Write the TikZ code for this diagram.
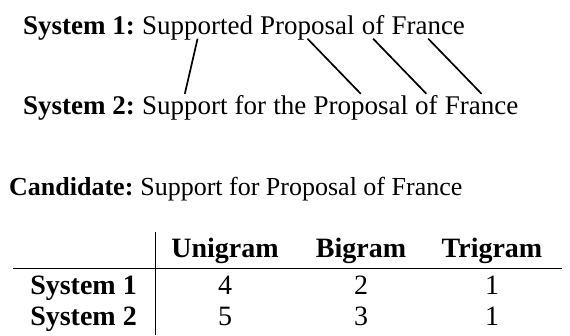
\documentclass[tikz,border=0pt]{standalone}
\usepackage{fontspec}
\setmainfont{Liberation Serif}
\usepackage{tikz}
\usetikzlibrary{positioning}

\begin{document}
\begin{tikzpicture}[x=1pt,y=-1pt,node distance=6.75pt]
            \tikzstyle{lbl}=[anchor=base west,inner sep=0pt,font=\fontsize{27}{32}\selectfont\bfseries]
            \tikzstyle{wd}=[anchor=base west,inner sep=0pt,text height=20pt,text depth=4.5pt,font=\fontsize{27}{32}\selectfont]
            \tikzstyle{link}=[line width=1.7pt]
            \tikzstyle{hd}=[anchor=base,inner sep=0pt,font=\fontsize{28}{33}\selectfont\bfseries]
            \tikzstyle{num}=[anchor=base,inner sep=0pt,font=\fontsize{28}{33}\selectfont]
            \tikzstyle{rl}=[anchor=base east,inner sep=0pt,font=\fontsize{28}{33}\selectfont\bfseries]
            \useasboundingbox (0,0) rectangle (570,335);

            \node[lbl] (sys1) at (23,34) {System 1:};
            \node[wd,base right=of sys1] (s1w1) {Supported};
            \node[wd,base right=of s1w1] (s1w2) {Proposal};
            \node[wd,base right=of s1w2] (s1w3) {of};
            \node[wd,base right=of s1w3] (s1w4) {France};

            \node[lbl] (sys2) at (23,114) {System 2:};
            \node[wd,base right=of sys2] (s2w1) {Support};
            \node[wd,base right=of s2w1] (s2w2) {for};
            \node[wd,base right=of s2w2] (s2w3) {the};
            \node[wd,base right=of s2w3] (s2w4) {Proposal};
            \node[wd,base right=of s2w4] (s2w5) {of};
            \node[wd,base right=of s2w5] (s2w6) {France};

            \draw[link] (s1w1.south) -- (s2w1.north);
            \draw[link] (s1w2.south) -- (s2w4.north);
            \draw[link] (s1w3.south) -- (s2w5.north);
            \draw[link] (s1w4.south) -- (s2w6.north);

            \node[lbl,font=\fontsize{26}{31}\selectfont\bfseries] (cand) at (9,195) {Candidate:};
            \node[wd,font=\fontsize{26}{31}\selectfont,base right=6.5pt of cand] (cline) {Support for Proposal of France};

            \node[hd] (uni) at (225,257) {Unigram};
            \node[hd] (bi) at (361,257) {Bigram};
            \node[hd] (tri) at (492,257) {Trigram};
            \node[rl] (row1) at (137,294) {System 1};
            \node[num] (u1) at (225,294) {4};
            \node[num] (b1) at (361,294) {2};
            \node[num] (t1) at (492,294) {1};
            \node[rl] (row2) at (137,325) {System 2};
            \node[num] (u2) at (225,325) {5};
            \node[num] (b2) at (361,325) {3};
            \node[num] (t2) at (492,325) {1};

            \coordinate (vtop) at (155,232);
            \coordinate (vbot) at (155,335);
            \coordinate (hleft) at (13,268);
            \coordinate (hright) at (562,268);
            \draw[line width=0.9pt] (vtop) -- (vbot);
            \draw[line width=0.9pt] (hleft) -- (hright);
        \end{tikzpicture}
\end{document}
